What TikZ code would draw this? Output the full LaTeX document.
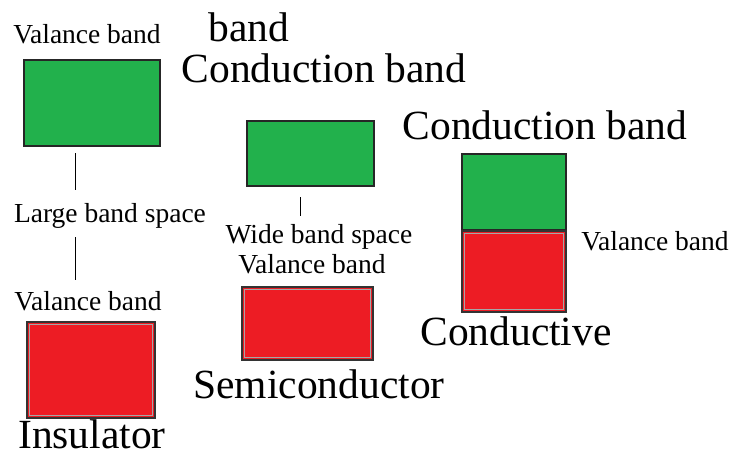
\documentclass[tikz,border=0pt]{standalone}
\usepackage{fontspec}
\setmainfont{Liberation Serif}
\begin{document}
\begin{tikzpicture}[x=1pt,y=-1pt,
  small/.style={font=\rmfamily\fontsize{27.5}{30}\selectfont, inner sep=0pt, anchor=base},
  big/.style={font=\rmfamily\fontsize{41.5}{46}\selectfont, inner sep=0pt, anchor=base},
  cband/.style={fill=cgreen, draw=black!85, line width=1.3pt},
  vband/.style={fill=cred, draw=black!80, line width=1.3pt},
  inner/.style={draw=black!35, line width=1pt},
  gap/.style={draw=black, line width=1pt}]
\definecolor{cgreen}{HTML}{22B14C}
\definecolor{cred}{HTML}{ED1C24}
\useasboundingbox (0,0) rectangle (734,456);
% Insulator
\node[small] (v1) at (87,43) {Valance band};
\node[big] (b1) at (249,41) {band};
\node[big] (c1) at (324,82) {Conduction band};
\draw[cband] (24,60) rectangle (160,146);
\node[small] (lbs) at (110,222) {Large band space};
\coordinate (l1a) at (75,153); \coordinate (l1b) at (75,190);
\coordinate (l2a) at (75,237); \coordinate (l2b) at (75,280);
\draw[gap] (l1a) -- (l1b);
\draw[gap] (l2a) -- (l2b);
\node[small] (v2) at (88,310) {Valance band};
\draw[vband] (27,322) rectangle (155,418);
\draw[inner] (29.5,324.5) rectangle (152.5,415.5);
\node[big] (ins) at (92,448) {Insulator};
% Semiconductor
\draw[cband] (247,121) rectangle (374,186);
\coordinate (l3a) at (300,197); \coordinate (l3b) at (300,216);
\draw[gap] (l3a) -- (l3b);
\node[small] (wbs) at (319,243) {Wide band space};
\node[small] (v3) at (312,273) {Valance band};
\draw[vband] (242,287) rectangle (373,360);
\draw[inner] (244.5,289.5) rectangle (370.5,357.5);
\node[big] (semi) at (319,398) {Semiconductor};
% Conductive
\node[big] (c2) at (545,139) {Conduction band};
\draw[cband] (462,154) rectangle (566,230);
\draw[vband] (462,231) rectangle (566,312);
\draw[inner] (464.5,233.5) rectangle (563.5,309.5);
\node[small] (v4) at (655,250) {Valance band};
\node[big] (cond) at (516,345) {Conductive};
\end{tikzpicture}
\end{document}
